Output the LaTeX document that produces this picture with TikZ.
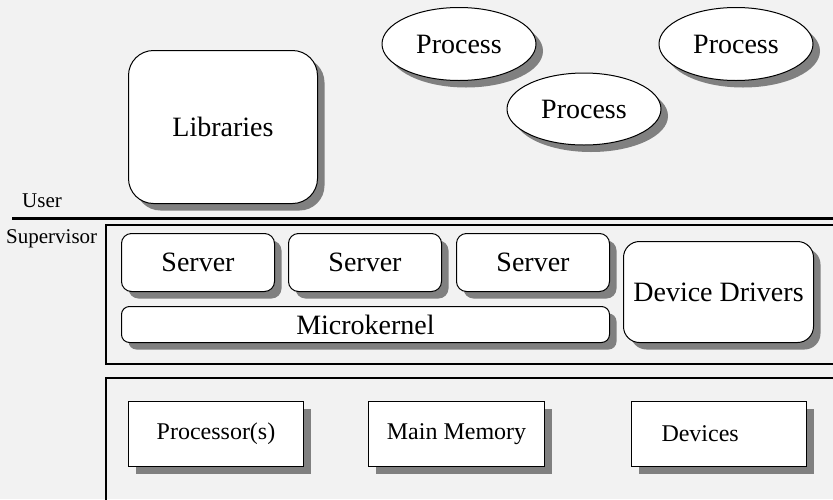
\documentclass[tikz,border=0pt]{standalone}
\usepackage{fontspec}
\setmainfont{Liberation Serif}
\usetikzlibrary{shapes.geometric, shadows}
\definecolor{paper}{RGB}{242, 242, 242}
\definecolor{shade}{RGB}{128, 128, 128}

\tikzset{
  shadowed/.style={drop shadow={shadow xshift=7pt, shadow yshift=-7pt, fill=shade, opacity=1}},
  rbox/.style={draw, fill=white, line width=1pt, shadowed, anchor=north west, inner sep=0pt,
    font=\fontsize{28}{30}\selectfont},
  procell/.style={ellipse, draw, fill=white, line width=1pt, shadowed, inner sep=0pt,
    minimum width=154pt, minimum height=73pt, font=\fontsize{28}{30}\selectfont},
  hwbox/.style={draw, fill=white, line width=1pt, shadowed, anchor=north west, inner sep=0pt,
    minimum width=176pt, minimum height=65pt, font=\fontsize{24}{26}\selectfont},
  modelabel/.style={anchor=base west, inner sep=0pt, font=\fontsize{21}{23}\selectfont}
}

\begin{document}
\begin{tikzpicture}[x=1pt, y=-1pt]
  \useasboundingbox (0, 0) rectangle (833, 499);
  \fill[paper] (0, 0) rectangle (833, 499);

  % user space
  \node[rbox, rounded corners=25pt, minimum width=189pt, minimum height=153pt] (lib) at (128, 50) {Libraries};
  \node[procell] (procA) at (459, 44) {Process};
  \node[procell] (procC) at (736, 44) {Process};
  \node[procell, minimum height=72pt] (procB) at (584, 109) {Process};

  \node[modelabel] (user) at (22, 207) {User};
  \draw[line width=3pt] (12, 218) -- (833, 218);
  \node[modelabel] (super) at (6, 243) {Supervisor};

  % supervisor space
  \draw[line width=2.5pt] (850, 225) -- (106, 225) -- (106, 364) -- (850, 364);
  \node[rbox, rounded corners=10pt, minimum width=153pt, minimum height=58pt] (srvA) at (121, 233) {Server};
  \node[rbox, rounded corners=10pt, minimum width=153pt, minimum height=58pt] (srvB) at (288, 233) {Server};
  \node[rbox, rounded corners=10pt, minimum width=153pt, minimum height=58pt] (srvC) at (456, 233) {Server};
  \node[rbox, rounded corners=8pt, minimum width=488pt, minimum height=36pt] (mkernel) at (121, 306) {Microkernel};
  \node[rbox, rounded corners=16pt, minimum width=190pt, minimum height=101pt] (drivers) at (623, 241) {Device Drivers};

  % hardware
  \draw[line width=2.5pt] (850, 378) -- (106, 378) -- (106, 520);
  \node[hwbox, minimum width=175pt] (cpu) at (128, 401) {Processor(s)};
  \node[hwbox] (mem) at (368, 401) {Main Memory};
  \node[hwbox, minimum width=175pt, text width=115pt, align=left, inner xsep=30pt] (dev) at (631, 401) {Devices};
\end{tikzpicture}
\end{document}
